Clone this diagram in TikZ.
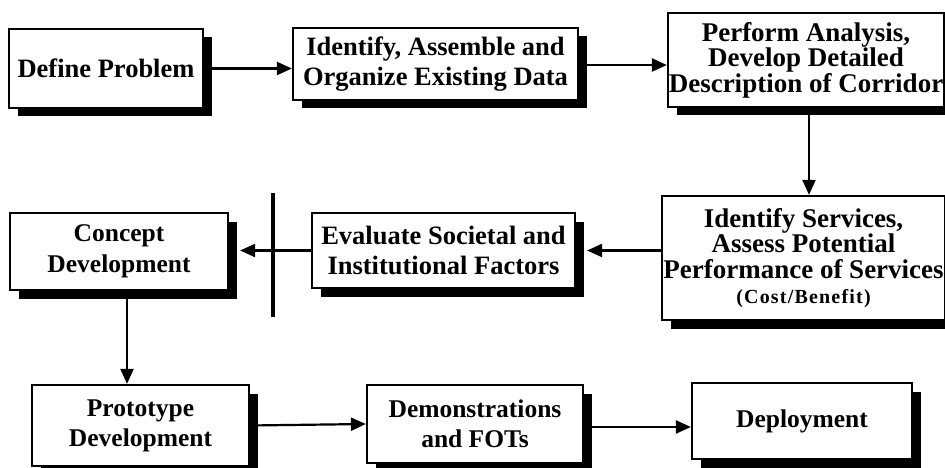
\documentclass[tikz,border=0pt]{standalone}
\usepackage{fontspec}
\setmainfont{Liberation Serif}
\usetikzlibrary{shadows,arrows.meta,backgrounds,calc}
\newcommand\mytightlines{\lineskiplimit=-100pt\relax}
\begin{document}
\begin{tikzpicture}[x=1pt,y=-1pt,
  box/.style={draw, line width=2.2pt, fill=white, inner sep=0pt, align=center,
    font=\bfseries\fontsize{26.5}{30}\selectfont\mytightlines,
    drop shadow={shadow xshift=8.5pt, shadow yshift=-8.5pt, fill=black, opacity=1}},
  tight/.style={font=\bfseries\fontsize{27}{25.5}\selectfont\mytightlines},
  conn/.style={line width=2.2pt, -{Triangle[length=15pt,width=13pt]}}]
\useasboundingbox (0,0) rectangle (945,468);

\node[box, minimum width=194pt, minimum height=79pt] (dp) at (106,68.5) {Define Problem};
\node[box, minimum width=285pt, minimum height=72pt] (ia) at (435.5,64) {Identify, Assemble and\\Organize Existing Data};
\node[box, tight, minimum width=276pt, minimum height=94pt] (pa) at (806,60) {Perform Analysis,\\Develop Detailed\\Description of Corridor};
\node[box, tight, minimum width=283pt, minimum height=124pt] (is) at (803.5,258) {Identify Services,\\Assess Potential\\Performance of Services\\{\fontsize{20}{22}\selectfont\addfontfeature{LetterSpace=6}(Cost/Benefit)}};
\node[box, minimum width=263pt, minimum height=75pt] (es) at (443.5,250.5) {Evaluate Societal and\\Institutional Factors};
\node[box, font=\bfseries\fontsize{25.5}{31}\selectfont\mytightlines, minimum width=218pt, minimum height=77pt] (cd) at (119,251.5) {Concept\\Development};
\node[box, font=\bfseries\fontsize{25.5}{30}\selectfont\mytightlines, minimum width=217pt, minimum height=81pt] (pd) at (140.5,425.5) {Prototype\\Development};
\node[box, font=\bfseries\fontsize{25.5}{30}\selectfont\mytightlines, minimum width=216pt, minimum height=78pt] (df) at (475,424) {Demonstrations\\and FOTs};
\node[box, font=\bfseries\fontsize{25.5}{30}\selectfont, minimum width=220pt, minimum height=76pt] (dep) at (802,421) {Deployment};

\coordinate (bartop) at (273,193);
\coordinate (barbot) at (273,317);

\begin{pgfonlayer}{background}
\draw[conn] (dp.east) -- (dp.east -| ia.west);
\draw[conn] ($(ia.east)+(0,1)$) -- ($(ia.east -| pa.west)+(0,1)$);
\draw[conn] ($(pa.south)+(3,0)$) -- ($(pa.south |- is.north)+(3,0)$);
\draw[conn] (es.east -| is.west) -- ($(es.east)+(11,0)$);
\draw[conn] (es.west) -- ($(es.west -| cd.east)+(11,0)$);
\draw[conn] ($(cd.south)+(8,0)$) -- ($(cd.south |- pd.north)+(8,0)$);
\draw[conn] (pd.east) -- (df.west);
\draw[conn] ($(df.east)+(0,3)$) -- ($(dep.west)+(0,6)$);
\end{pgfonlayer}
\draw[line width=4pt] (bartop) -- (barbot);
\end{tikzpicture}
\end{document}
